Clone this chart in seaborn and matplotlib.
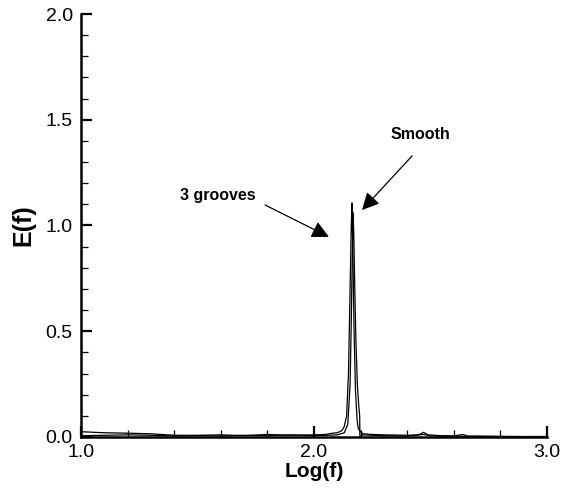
import numpy as np
import pandas as pd
import matplotlib
matplotlib.use("Agg")
import matplotlib.pyplot as plt
import seaborn as sns
from matplotlib.ticker import MultipleLocator, FormatStrFormatter

sns.set_style("white")
plt.rcParams['font.family'] = ['Liberation Sans', 'DejaVu Sans']
plt.rcParams['text.color'] = 'black'
plt.rcParams['axes.labelcolor'] = 'black'

# 3 grooves series
x_grooves = [1.0, 1.1, 1.2, 1.3, 1.4, 1.5, 1.6, 1.7, 1.8, 1.9, 2.0, 2.05, 2.08,
             2.10, 2.12, 2.13, 2.14, 2.148, 2.155, 2.16, 2.163, 2.167, 2.172,
             2.178, 2.185, 2.19, 2.2, 2.21, 2.25, 2.3, 2.4, 2.45, 2.47, 2.49,
             2.55, 2.6, 2.64, 2.66, 2.7, 2.8, 2.9, 3.0]
e_grooves = [0.025, 0.02, 0.018, 0.015, 0.008, 0.008, 0.01, 0.006, 0.012, 0.008,
             0.01, 0.012, 0.018, 0.02, 0.03, 0.05, 0.10, 0.30, 0.70, 1.00, 1.106,
             0.85, 0.50, 0.22, 0.08, 0.04, 0.025, 0.015, 0.012, 0.01, 0.008,
             0.01, 0.022, 0.01, 0.006, 0.005, 0.012, 0.004, 0.004, 0.003, 0.002, 0.002]

# Smooth series
x_smooth = [1.0, 1.1, 1.2, 1.3, 1.4, 1.5, 1.6, 1.7, 1.8, 1.9, 2.0, 2.05, 2.1,
            2.13, 2.145, 2.155, 2.16, 2.165, 2.168, 2.171, 2.175, 2.18, 2.186,
            2.192, 2.196, 2.197, 2.21, 2.25, 2.3, 2.4, 2.47, 2.5, 2.6, 2.7, 2.8, 2.9, 3.0]
e_smooth = [0.006, 0.008, 0.01, 0.008, 0.005, 0.006, 0.005, 0.008, 0.006, 0.01,
            0.006, 0.008, 0.01, 0.02, 0.06, 0.25, 0.55, 0.90, 1.06, 0.95, 0.70,
            0.45, 0.25, 0.15, 0.10, 0.0, 0.01, 0.008, 0.006, 0.005, 0.012, 0.005,
            0.004, 0.003, 0.002, 0.002, 0.002]

labels = ["3 grooves", "Smooth"]

df_g = pd.DataFrame({"x": x_grooves, "E": e_grooves})
df_s = pd.DataFrame({"x": x_smooth, "E": e_smooth})

fig = plt.figure(figsize=(5.69, 4.95), dpi=100)
ax = fig.add_axes([0.1424, 0.1172, 0.8189, 0.8545])

sns.lineplot(data=df_g, x="x", y="E", ax=ax, color="black", lw=0.9,
             sort=False, estimator=None)
sns.lineplot(data=df_s, x="x", y="E", ax=ax, color="black", lw=0.9,
             sort=False, estimator=None)

ax.set_xlim(1.0, 3.0)
ax.set_ylim(0.0, 2.0)
ax.xaxis.set_major_locator(MultipleLocator(1.0))
ax.xaxis.set_minor_locator(MultipleLocator(0.2))
ax.yaxis.set_major_locator(MultipleLocator(0.5))
ax.yaxis.set_minor_locator(MultipleLocator(0.1))
ax.xaxis.set_major_formatter(FormatStrFormatter('%.1f'))
ax.yaxis.set_major_formatter(FormatStrFormatter('%.1f'))

for s in ["top", "right"]:
    ax.spines[s].set_visible(False)
for s in ["left", "bottom"]:
    ax.spines[s].set_linewidth(1.8)
    ax.spines[s].set_color("black")

ax.tick_params(axis="both", which="major", direction="in", length=8, width=1.6,
               labelsize=14, colors="black", labelcolor="black")
ax.tick_params(axis="x", which="major", pad=5)
ax.tick_params(axis="y", which="major", pad=6)
ax.tick_params(axis="both", which="minor", direction="in", length=5, width=0.9,
               colors="black")
ax.tick_params(axis="both", which="both", bottom=True, left=True, top=False, right=False)

ax.set_xlabel("Log(f)", fontsize=15, fontweight="bold", labelpad=1, color="black")
ax.set_ylabel("E(f)", fontsize=18, fontweight="bold", labelpad=7, color="black")

arrow = dict(arrowstyle="-|>", color="black", lw=0.9, mutation_scale=26,
             shrinkA=0, shrinkB=0)

ax.text(1.588, 1.144, labels[0], fontsize=11.5, fontweight="bold",
        ha="center", va="center", color="black")
ax.annotate("", xy=(2.064, 0.946), xytext=(1.790, 1.097), arrowprops=arrow)

ax.text(2.455, 1.428, labels[1], fontsize=11.5, fontweight="bold",
        ha="center", va="center", color="black")
ax.annotate("", xy=(2.206, 1.073), xytext=(2.421, 1.329), arrowprops=arrow)

fig.savefig("out.png", dpi=100)
